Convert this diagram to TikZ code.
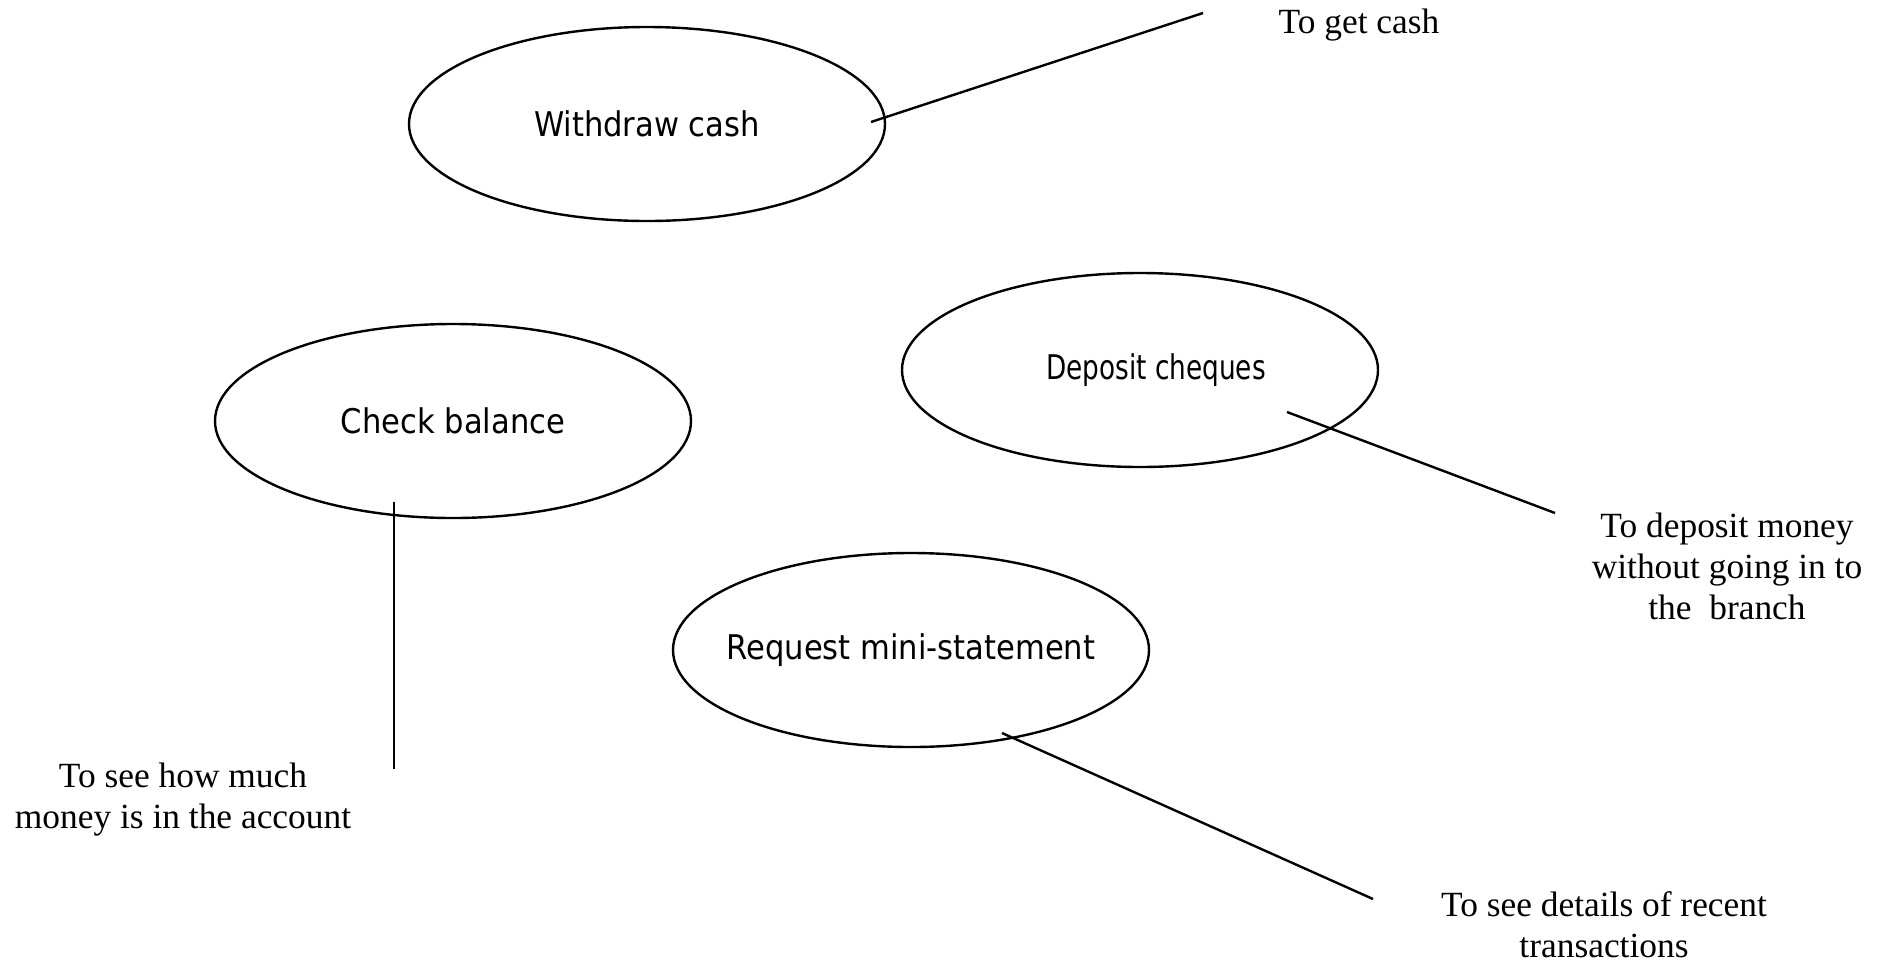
\documentclass[tikz,border=0pt]{standalone}
\usepackage{fontspec}
\usepackage{graphicx}
\setmainfont{Liberation Serif}
\newfontfamily\casefont{DejaVu Sans Condensed}
\usetikzlibrary{shapes.geometric}
\begin{document}
\begin{tikzpicture}[x=0.5pt,y=-0.5pt,
  usecase/.style={ellipse, draw, line width=1.2pt, minimum width=238pt,
    minimum height=97pt, inner xsep=-20pt, inner ysep=0pt,
    font=\casefont\fontsize{17}{19}\selectfont},
  note/.style={align=center, inner sep=0pt, font=\fontsize{17.7}{20.5}\selectfont},
  link/.style={line width=1.2pt}]
\useasboundingbox (0,0) rectangle (1885,965);

% use cases
\node[usecase] (withdraw)  at (647,124)  {Withdraw cash};
\node[usecase] (balance)   at (453,421)  {Check balance};
\node[usecase] (deposit)   at (1140,370) {\hspace*{16pt}\scalebox{0.86}[1]{Deposit cheques}};
\node[usecase] (statement) at (911,650)  {Request mini-statement};

% goals
\node[note, anchor=base] (getcash) at (1359,33) {To get cash};
\node[note] (howmuch) at (183,800) {To see how much\\money is in the account};
\node[note] (branch)  at (1727,566) {To deposit money\\without going in to\\the~~branch};
\node[note] (recent)  at (1604,925) {To see details of recent\\transactions};

% line ends
\coordinate (w-in)  at (871,122);  \coordinate (w-out) at (1203,13);
\coordinate (b-in)  at (394,502);  \coordinate (b-out) at (394,769);
\coordinate (d-in)  at (1287,412); \coordinate (d-out) at (1555,513);
\coordinate (s-in)  at (1002,733); \coordinate (s-out) at (1373,899);

\draw[link] (w-in) -- (w-out);
\draw[link] (b-in) -- (b-out);
\draw[link] (d-in) -- (d-out);
\draw[link] (s-in) -- (s-out);
\end{tikzpicture}
\end{document}
